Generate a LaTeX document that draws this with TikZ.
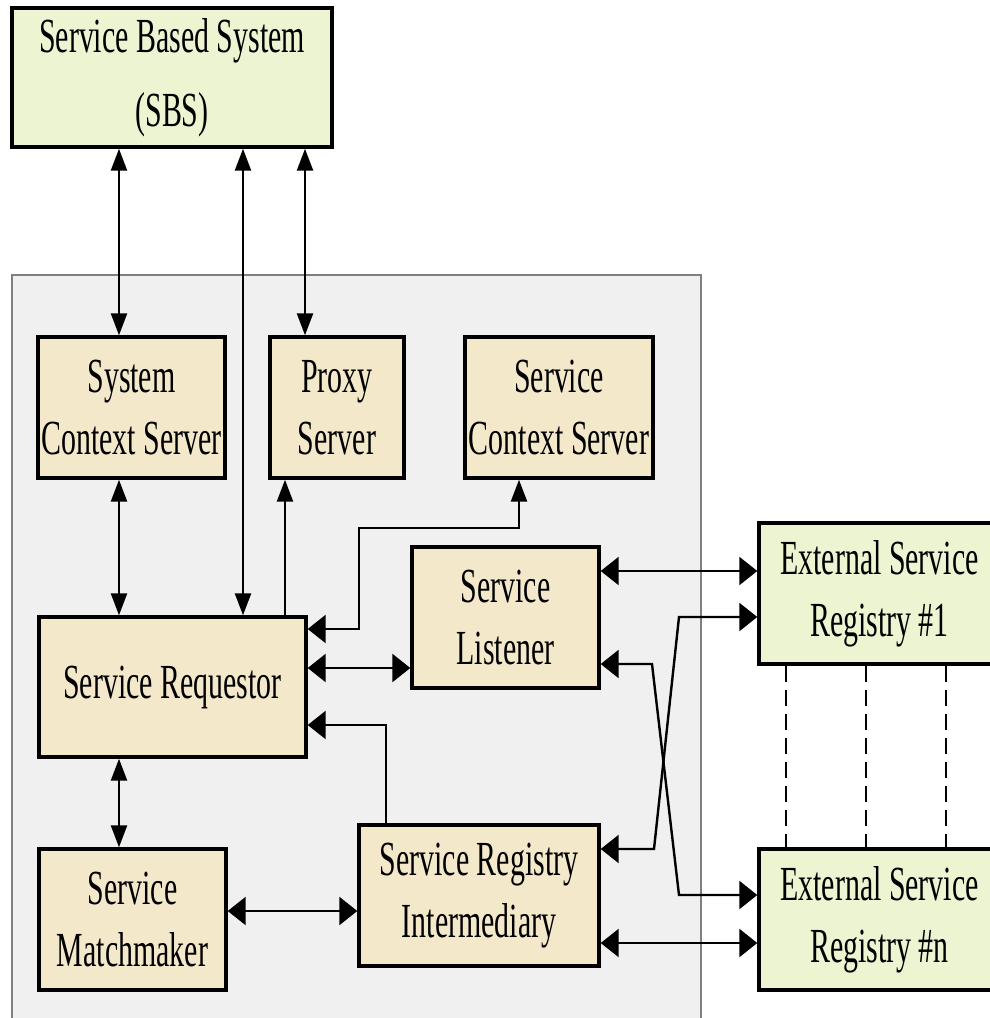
\documentclass[tikz,border=0pt]{standalone}
\usepackage{fontspec}
\setmainfont{Liberation Serif}[FakeStretch=0.61]
\usetikzlibrary{arrows.meta}

\definecolor{sysgreen}{RGB}{236,244,210}
\definecolor{compbeige}{RGB}{243,233,202}
\definecolor{panelgrey}{RGB}{240,240,240}
\definecolor{panelline}{RGB}{128,128,128}

\tikzset{
  Vtip/.tip={Triangle[length=11pt,width=8pt]},
  Htip/.tip={Triangle[length=9pt,width=14pt]},
}

\begin{document}
\begin{tikzpicture}[x=0.5pt,y=-0.5pt,
    box/.style={draw, line width=1.7pt, inner sep=0pt, align=center,
      minimum height=70.5pt, font=\fontsize{24.5}{31}\selectfont},
    sysbox/.style={box, fill=sysgreen},
    compbox/.style={box, fill=compbeige},
    link/.style={line width=1.2pt},
    regdash/.style={line width=0.6pt, dash pattern=on 8pt off 4pt}]

  \useasboundingbox (0,0) rectangle (990,1018);

  % grey panel round the components
  \fill[panelgrey] (12,275) rectangle (701,1018);
  \draw[panelline, line width=1pt] (12,1018) -- (12,275) -- (701,275) -- (701,1018);

  \node[sysbox, minimum width=160pt, minimum height=69.5pt] (sbs) at (172,77.5) {Service Based System\\[6pt](SBS)};

  \node[compbox, minimum width=93.5pt] (sysctx)       at (131.5,407.5) {System\\Context Server};
  \node[compbox, minimum width=67pt]   (proxy)        at (337,407.5)   {Proxy\\Server};
  \node[compbox, minimum width=94pt]   (srvctx)       at (559,407.5)   {Service\\Context Server};
  \node[compbox, minimum width=93.5pt] (listener)     at (505.5,617.5) {Service\\Listener};
  \node[compbox, minimum width=133.5pt, minimum height=70pt] (requestor) at (172.5,687) {Service Requestor};
  \node[compbox, minimum width=93.5pt] (matchmaker)   at (132.5,919.5) {Service\\Matchmaker};
  \node[compbox, minimum width=120pt]  (intermediary) at (479,895.5)   {Service Registry\\Intermediary};

  \node[sysbox, minimum width=120.5pt] (reg1) at (879.5,593.5) {External Service\\Registry \#1};
  \node[sysbox, minimum width=120.5pt] (regn) at (879.5,919.5) {External Service\\Registry \#n};

  % columns, rows and bends of the connectors
  \coordinate (xa) at (119,0);
  \coordinate (xb) at (243,0);
  \coordinate (xc) at (305,0);
  \coordinate (xd) at (285,0);
  \coordinate (ya) at (0,668);
  \coordinate (yb) at (0,911);
  \coordinate (yc) at (0,571);
  \coordinate (yd) at (0,943);
  \coordinate (b1) at (519,528);
  \coordinate (b2) at (359,528);
  \coordinate (b3) at (359,629);
  \coordinate (b4) at (386,725);
  \coordinate (k1) at (654,849);
  \coordinate (k2) at (679,617);
  \coordinate (k3) at (652,664);
  \coordinate (k4) at (679,895);

  \draw[link, Vtip-Vtip] (sbs.south -| xa) -- (sysctx.north -| xa);
  \draw[link, Vtip-Vtip] (sbs.south -| xb) -- (requestor.north -| xb);
  \draw[link, Vtip-Vtip] (sbs.south -| xc) -- (proxy.north -| xc);
  \draw[link, Vtip-Vtip] (sysctx.south -| xa) -- (requestor.north -| xa);
  \draw[link, -Vtip] (requestor.north -| xd) -- (proxy.south -| xd);
  \draw[link, Vtip-Htip] (srvctx.south -| b1) -- (b1) -- (b2) -- (b3) -- (requestor.east |- b3);
  \draw[link, Htip-Htip] (requestor.east |- ya) -- (listener.west |- ya);
  \draw[link, -Htip] (intermediary.north -| b4) -- (b4) -- (requestor.east |- b4);
  \draw[link, Vtip-Vtip] (requestor.south -| xa) -- (matchmaker.north -| xa);
  \draw[link, Htip-Htip] (matchmaker.east |- yb) -- (intermediary.west |- yb);

  % to the external registries
  \draw[link, Htip-Htip] (listener.east |- yc) -- (reg1.west |- yc);
  \draw[link, Htip-Htip] (intermediary.east |- k1) -- (k1) -- (k2) -- (reg1.west |- k2);
  \draw[link, Htip-Htip] (listener.east |- k3) -- (k3) -- (k4) -- (regn.west |- k4);
  \draw[link, Htip-Htip] (intermediary.east |- yd) -- (regn.west |- yd);

  \foreach \dx in {786,866,946} {
    \coordinate (dcol) at (\dx,0);
    \draw[regdash] (reg1.south -| dcol) -- (regn.north -| dcol);
  }

\end{tikzpicture}
\end{document}
